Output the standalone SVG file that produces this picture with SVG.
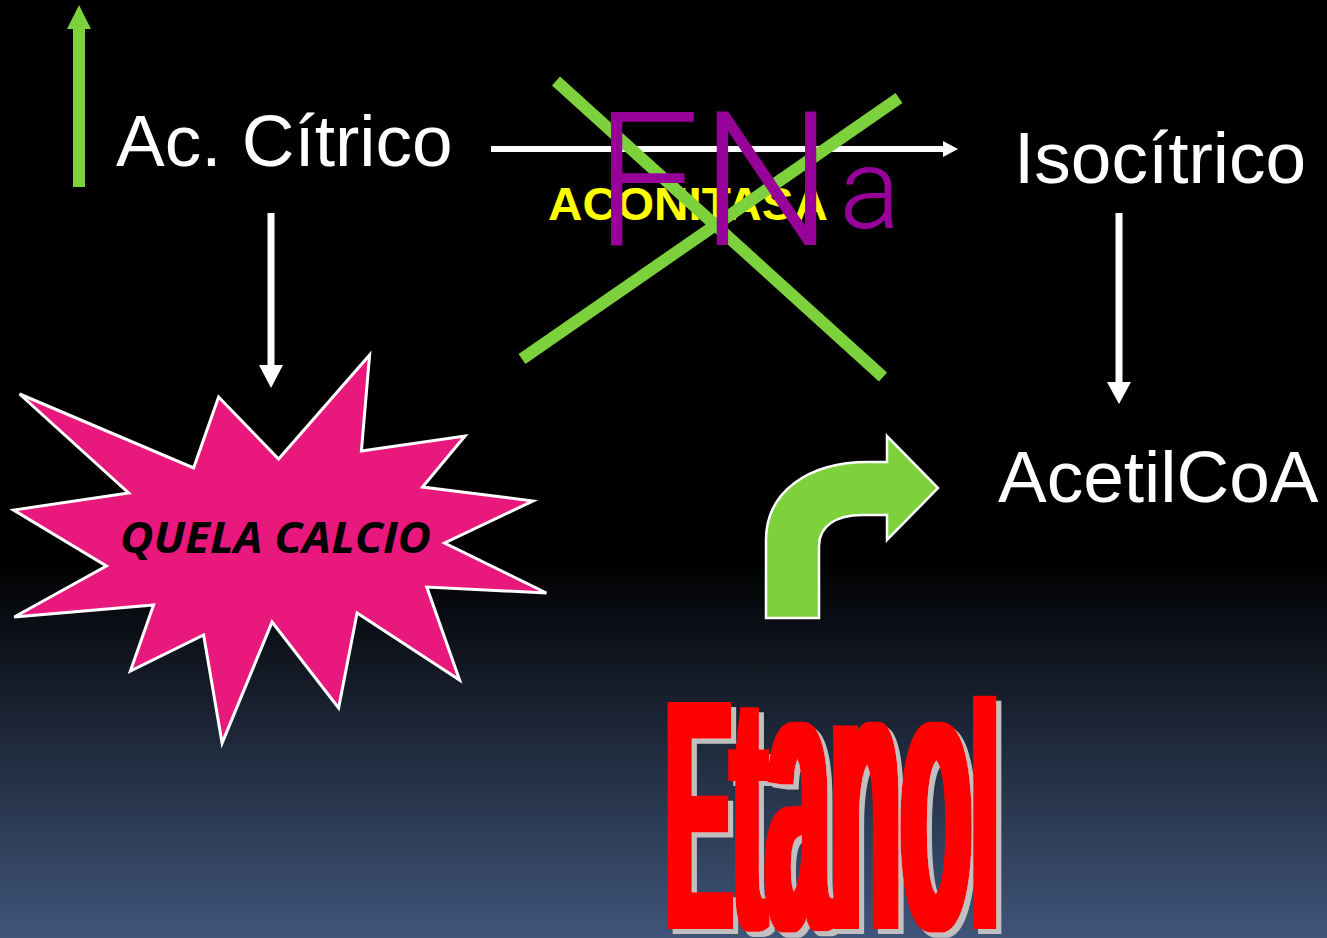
<svg xmlns="http://www.w3.org/2000/svg" width="1327" height="938" viewBox="0 0 1327 938">
  <defs>
    <linearGradient id="bg" x1="0" y1="0" x2="0" y2="1">
      <stop offset="0" stop-color="#000000"/>
      <stop offset="0.597" stop-color="#000000"/>
      <stop offset="1" stop-color="#40557a"/>
    </linearGradient>
    <filter id="etanolF" filterUnits="userSpaceOnUse" x="620" y="640" width="440" height="298">
      <feMorphology in="SourceGraphic" operator="dilate" radius="5 0" result="fat"/>
      <feOffset in="fat" dx="5" dy="5" result="off"/>
      <feFlood flood-color="#c0c0c0"/>
      <feComposite in2="off" operator="in" result="shadow"/>
      <feMerge>
        <feMergeNode in="shadow"/>
        <feMergeNode in="fat"/>
      </feMerge>
    </filter>
    <style>
      .lbl { font-family: "Liberation Sans", Arial, sans-serif; fill: #ffffff; font-size: 73px; }
      .wline { stroke: #ffffff; fill: none; }
      .whead { fill: #ffffff; }
      .green { fill: #7dd13d; }
      .gx { stroke: #7dd13d; stroke-width: 12; stroke-linecap: butt; }
    </style>
  </defs>

  <rect x="0" y="0" width="1327" height="938" fill="url(#bg)"/>

  <g id="connectors">
    <line class="wline" x1="491" y1="149" x2="944" y2="149" stroke-width="6"/>
    <polygon class="whead" points="943,141 958,149 943,157"/>
    <line class="wline" x1="271" y1="213" x2="271" y2="366" stroke-width="7"/>
    <polygon class="whead" points="259,365 283,365 271,388"/>
    <line class="wline" x1="1119" y1="213" x2="1119" y2="383" stroke-width="7"/>
    <polygon class="whead" points="1107,382 1131,382 1119,404"/>
  </g>

  <g id="increase-arrow">
    <rect class="green" x="73" y="28" width="12" height="159"/>
    <polygon class="green" points="67,29 79,5 91,29"/>
  </g>

  <g id="citrico">
    <text class="lbl" x="116" y="166">Ac. Cítrico</text>
  </g>

  <g id="isocitrico">
    <text class="lbl" x="1014" y="183">Isocítrico</text>
  </g>

  <g id="acetilcoa">
    <text class="lbl" x="998" y="502">AcetilCoA</text>
  </g>

  <g id="aconitasa">
    <text x="548" y="220" font-family="'Liberation Sans', Arial, sans-serif" font-weight="bold" font-size="46" fill="#ffff00" textLength="280" lengthAdjust="spacingAndGlyphs">ACONITASA</text>
  </g>

  <g id="cross">
    <line class="gx" x1="556" y1="81" x2="883" y2="377"/>
    <line class="gx" x1="899" y1="98" x2="522" y2="359"/>
  </g>

  <g id="fna">
    <text x="594" y="245" font-family="Roboto, 'Liberation Sans', sans-serif" font-weight="300" font-size="188" fill="#98009a">FN<tspan font-size="114" dy="-17" dx="6">a</tspan></text>
  </g>

  <g id="quela-calcio">
    <polygon points="19.6,394 128.6,493 13.6,510 106.4,566 14.3,617 153.6,605 130.4,671 203.6,635 222.1,743 272.1,622 338.6,708 357.1,613 459.6,680 426.8,587 546.4,593 444.6,543 532.9,501 422.5,487 465,436 361.4,451 369.6,355 278.6,459 218.6,397 193.6,468" fill="#e8187c" stroke="#ffffff" stroke-width="3" stroke-linejoin="miter"/>
    <text x="120" y="553" font-family="'Open Sans', 'Liberation Sans', sans-serif" font-weight="bold" font-style="italic" font-size="43" fill="#000000" textLength="311" lengthAdjust="spacingAndGlyphs">QUELA CALCIO</text>
  </g>

  <g id="bent-arrow">
    <path d="M766,618 L766,540 C766,492 808,462 868,462 L887,462 L887,436 L938,488 L887,540 L887,515 L862,515 C836,515 819,526 819,546 L819,618 Z" fill="#7dd13d" stroke="#ffffff" stroke-width="2.5" stroke-linejoin="miter"/>
  </g>

  <g id="etanol" filter="url(#etanolF)">
    <text transform="translate(666,929) scale(0.30,1)" font-family="'Liberation Sans', Arial, sans-serif" font-weight="bold" font-size="330" fill="#ff0000">E<tspan font-size="340">t</tspan><tspan font-size="385">ano</tspan><tspan font-size="322">l</tspan></text>
  </g>
</svg>
